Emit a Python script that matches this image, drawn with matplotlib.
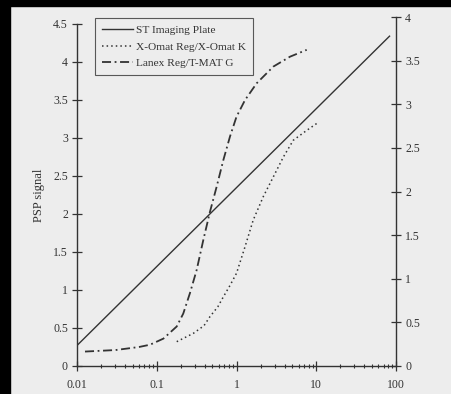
import matplotlib
matplotlib.use("Agg")
import matplotlib.pyplot as plt
from matplotlib.patches import Rectangle
from matplotlib.ticker import LogLocator, FixedLocator, NullFormatter

# Data (x on log scale, y in left-axis units)
st_x = [0.01, 83.0]
st_y = [0.27, 4.34]

xomat_x = [0.178, 0.288, 0.391, 0.465, 0.584, 0.684, 0.829, 1.0, 1.28, 1.62,
           2.17, 2.9, 3.87, 5.15, 7.59, 10.1]
xomat_y = [0.32, 0.43, 0.53, 0.65, 0.78, 0.91, 1.06, 1.22, 1.57, 1.92,
           2.23, 2.49, 2.75, 2.97, 3.10, 3.19]

lanex_x = [0.0126, 0.0305, 0.0599, 0.0823, 0.121, 0.178, 0.215, 0.261, 0.316,
           0.384, 0.465, 0.564, 0.684, 0.829, 1.0, 1.28, 1.79, 2.9, 4.69, 7.59]
lanex_y = [0.19, 0.21, 0.25, 0.28, 0.36, 0.52, 0.69, 0.96, 1.26,
           1.66, 2.03, 2.36, 2.71, 3.02, 3.28, 3.50, 3.72, 3.94, 4.07, 4.16]

left_ticks = [0, 0.5, 1, 1.5, 2, 2.5, 3, 3.5, 4, 4.5]
left_labels = ["0", "0.5", "1", "1.5", "2", "2.5", "3", "3.5", "4", "4.5"]
right_ticks = [0, 0.5, 1, 1.5, 2, 2.5, 3, 3.5, 4]
right_labels = ["0", "0.5", "1", "1.5", "2", "2.5", "3", "3.5", "4"]
x_ticks = [0.01, 0.1, 1, 10, 100]
x_labels = ["0.01", "0.1", "1", "10", "100"]

paper = "#ededed"
ink = "#333333"

plt.rcParams["font.family"] = ["Liberation Serif", "DejaVu Serif"]

W, H = 451, 394
fig = plt.figure(figsize=(W / 100, H / 100), dpi=100, facecolor=paper)

x0, x1 = 77, 396
y_top, y_bot = 17, 366
ax = fig.add_axes([x0 / W, 1 - y_bot / H, (x1 - x0) / W, (y_bot - y_top) / H])
ax.set_facecolor(paper)

ax.plot(st_x, st_y, color=ink, lw=1.0, ls="-", label="ST Imaging Plate")
ax.plot(xomat_x, xomat_y, color=ink, lw=1.1, ls=(0, (1, 2)),
        label="X-Omat Reg/X-Omat K")
ax.plot(lanex_x, lanex_y, color=ink, lw=1.3, ls=(0, (5, 2, 1, 2)),
        label="Lanex Reg/T-MAT G")

ax.set_xscale("log")
ax.set_xlim(0.01, 100)
ax.xaxis.set_major_locator(FixedLocator(x_ticks))
ax.set_xticklabels(x_labels)
ax.xaxis.set_minor_locator(LogLocator(base=10, subs=range(2, 10)))
ax.xaxis.set_minor_formatter(NullFormatter())

# left axis: 0 at the x axis, 4.5 a little below the top
y_unit = (y_bot - 24) / 4.5
ax.set_ylim(0, (y_bot - y_top) / y_unit)
ax.set_yticks(left_ticks)
ax.set_yticklabels(left_labels)
ax.spines["left"].set_bounds(0, 4.5)
ax.spines["top"].set_visible(False)
ax.spines["right"].set_visible(False)
for s in ("left", "bottom"):
    ax.spines[s].set_color(ink)
    ax.spines[s].set_linewidth(1.0)

ax.tick_params(axis="both", which="major", direction="inout", length=7,
               width=0.9, colors=ink, labelsize=8.5, pad=3)
ax.tick_params(axis="x", which="minor", direction="inout", length=3,
               width=0.8, colors=ink)
ax.tick_params(axis="x", pad=6)

ax.set_ylabel("PSP signal", fontsize=9, color=ink)
ax.yaxis.set_label_coords(-32 / (x1 - x0), 0.49)

ax2 = ax.twinx()
ax2.set_ylim(0, 4)
ax2.set_yticks(right_ticks)
ax2.set_yticklabels(right_labels)
for s in ("left", "top", "bottom"):
    ax2.spines[s].set_visible(False)
ax2.spines["right"].set_color(ink)
ax2.spines["right"].set_linewidth(1.0)
ax2.tick_params(axis="y", direction="inout", length=7, width=0.9,
                colors=ink, labelsize=8.5, pad=3)

leg = ax.legend(loc="upper left",
                bbox_to_anchor=((95 - x0) / (x1 - x0), 1.0 - 1 / (y_bot - y_top)),
                fontsize=8.2, frameon=True, fancybox=False, handlelength=2.7,
                handletextpad=0.3, borderpad=0.6, labelspacing=0.6,
                borderaxespad=0)
leg.get_frame().set_edgecolor(ink)
leg.get_frame().set_facecolor(paper)
leg.get_frame().set_linewidth(0.8)
for t in leg.get_texts():
    t.set_color(ink)

# black scanner borders
fig.patches.append(Rectangle((0, 1 - 6 / H), 1, 6 / H, transform=fig.transFigure,
                             color="black", zorder=10))
fig.patches.append(Rectangle((0, 0), 10 / W, 1, transform=fig.transFigure,
                             color="black", zorder=10))

fig.savefig("out.png", dpi=100, facecolor=paper)
